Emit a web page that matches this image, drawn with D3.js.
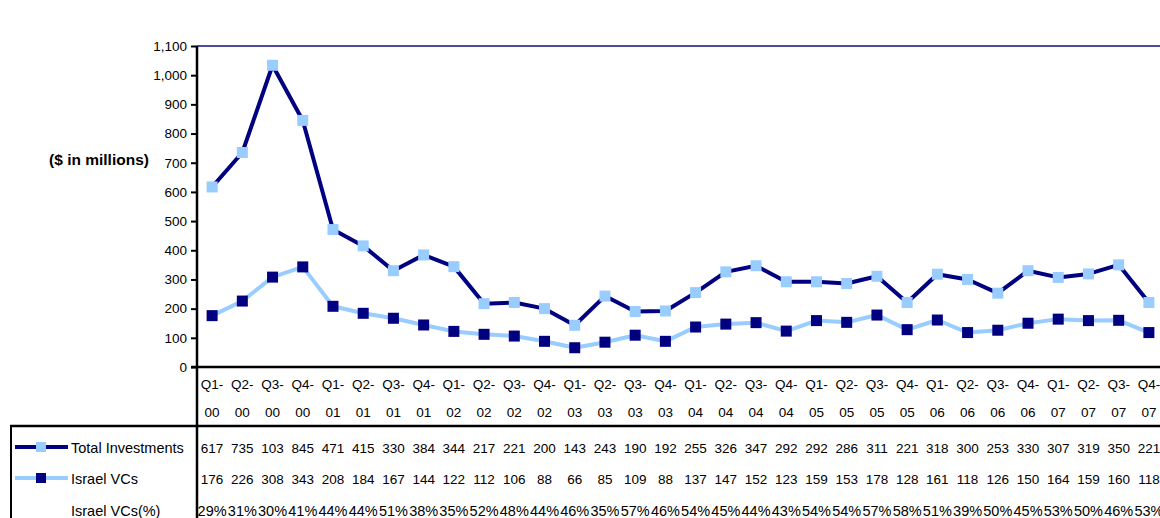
<!DOCTYPE html>
<html>
<head>
<meta charset="utf-8">
<script src="https://cdn.jsdelivr.net/npm/d3@7"></script>
<style>
    body { margin: 0; background: #fff; }
    text { font-family: "Liberation Sans", Arial, sans-serif; fill: #000; }
</style>
</head>
<body>
<div id="chart"></div>
<script>
var quarters = ["Q1-00", "Q2-00", "Q3-00", "Q4-00", "Q1-01", "Q2-01", "Q3-01", "Q4-01",
    "Q1-02", "Q2-02", "Q3-02", "Q4-02", "Q1-03", "Q2-03", "Q3-03", "Q4-03",
    "Q1-04", "Q2-04", "Q3-04", "Q4-04", "Q1-05", "Q2-05", "Q3-05", "Q4-05",
    "Q1-06", "Q2-06", "Q3-06", "Q4-06", "Q1-07", "Q2-07", "Q3-07", "Q4-07"];
var totalInvestments = [617, 735, 1034, 845, 471, 415, 330, 384, 344, 217, 221, 200, 143, 243, 190, 192,
    255, 326, 347, 292, 292, 286, 311, 221, 318, 300, 253, 330, 307, 319, 350, 221];
// the table cell shows the value cut to three characters, as in the original
var totalLabels = ["617", "735", "103", "845", "471", "415", "330", "384", "344", "217", "221", "200", "143", "243", "190", "192",
    "255", "326", "347", "292", "292", "286", "311", "221", "318", "300", "253", "330", "307", "319", "350", "221"];
var israelVCs = [176, 226, 308, 343, 208, 184, 167, 144, 122, 112, 106, 88, 66, 85, 109, 88,
    137, 147, 152, 123, 159, 153, 178, 128, 161, 118, 126, 150, 164, 159, 160, 118];
var israelPct = ["29%", "31%", "30%", "41%", "44%", "44%", "51%", "38%", "35%", "52%", "48%", "44%", "46%", "35%", "57%", "46%",
    "54%", "45%", "44%", "43%", "54%", "54%", "57%", "58%", "51%", "39%", "50%", "45%", "53%", "50%", "46%", "53%"];
var yTicks = [0, 100, 200, 300, 400, 500, 600, 700, 800, 900, 1000, 1100];

var navy = "#000080",
    light = "#99ccff";

var width = 1160,
    height = 518,
    plot = { left: 197, right: 1164, top: 46, bottom: 367 };

var svg = d3.select("#chart")
    .append("svg")
    .attr("width", width)
    .attr("height", height);

var x = d3.scaleBand()
    .domain(quarters)
    .range([plot.left, plot.right]);

var y = d3.scaleLinear()
    .domain([0, 1100])
    .range([plot.bottom, plot.top]);

// top border of the plot area
svg.append("line")
    .attr("x1", plot.left).attr("x2", width)
    .attr("y1", y(1100)).attr("y2", y(1100))
    .attr("stroke", "#4b4ba6")
    .attr("stroke-width", 2);

// y axis
var yAxis = svg.append("g")
    .attr("transform", "translate(" + plot.left + ",0)")
    .call(d3.axisLeft(y).tickValues(yTicks).tickSize(6).tickPadding(4).tickFormat(d3.format(",")));
yAxis.select(".domain").remove();
yAxis.selectAll(".tick line").attr("stroke", "#000").attr("stroke-width", 2);
yAxis.selectAll(".tick text")
    .style("font-family", "Liberation Sans, Arial, sans-serif")
    .style("font-size", "13.5px");

svg.append("text")
    .attr("x", 99)
    .attr("y", 165)
    .attr("text-anchor", "middle")
    .style("font-size", "15.5px")
    .style("font-weight", "bold")
    .text("($ in millions)");

// grid of the data table
var tableTop = 426;
svg.append("line")
    .attr("x1", plot.left).attr("x2", plot.left)
    .attr("y1", y(1100)).attr("y2", height)
    .attr("stroke", "#000").attr("stroke-width", 2.5);
svg.append("line")
    .attr("x1", plot.left - 6).attr("x2", width)
    .attr("y1", y(0)).attr("y2", y(0))
    .attr("stroke", "#000").attr("stroke-width", 2.5);
svg.append("line")
    .attr("x1", 10).attr("x2", width)
    .attr("y1", tableTop).attr("y2", tableTop)
    .attr("stroke", "#000").attr("stroke-width", 2.5);
svg.append("line")
    .attr("x1", 11).attr("x2", 11)
    .attr("y1", tableTop).attr("y2", height)
    .attr("stroke", "#000").attr("stroke-width", 2);

// category labels, two lines each
var cats = svg.append("g").selectAll("text")
    .data(quarters)
    .enter()
    .append("text")
    .attr("text-anchor", "middle")
    .style("font-size", "13.5px");
cats.append("tspan")
    .attr("x", (d) => x(d) + x.bandwidth() / 2)
    .attr("y", 389)
    .text((d) => d.split("-")[0] + "-");
cats.append("tspan")
    .attr("x", (d) => x(d) + x.bandwidth() / 2)
    .attr("y", 417)
    .text((d) => d.split("-")[1]);

// lines and markers
var line = (vals) => d3.line()
    .x((d, i) => x(quarters[i]) + x.bandwidth() / 2)
    .y((d) => y(d))(vals);

var series = [
    { name: "Israel VCs", values: israelVCs, stroke: light, marker: navy },
    { name: "Total Investments", values: totalInvestments, stroke: navy, marker: light },
];
var ms = 11;

series.forEach((s) => {
    svg.append("path")
        .attr("fill", "none")
        .attr("stroke", s.stroke)
        .attr("stroke-width", 4)
        .attr("stroke-linejoin", "round")
        .attr("d", line(s.values));
    svg.append("g").selectAll("rect")
        .data(s.values)
        .enter()
        .append("rect")
        .attr("x", (d, i) => x(quarters[i]) + x.bandwidth() / 2 - ms / 2)
        .attr("y", (d) => y(d) - ms / 2)
        .attr("width", ms)
        .attr("height", ms)
        .attr("fill", s.marker);
});

// table rows
var rows = [
    { label: "Total Investments", cells: totalLabels, y: 453, size: 13.5, stroke: navy, marker: light },
    { label: "Israel VCs", cells: israelVCs.map(String), y: 484, size: 13.5, stroke: light, marker: navy },
    { label: "Israel VCs(%)", cells: israelPct, y: 516, size: 14.5 },
];

rows.forEach((r) => {
    if (r.stroke) {
        svg.append("line")
            .attr("x1", 15).attr("x2", 68)
            .attr("y1", r.y - 6).attr("y2", r.y - 6)
            .attr("stroke", r.stroke).attr("stroke-width", 4);
        svg.append("rect")
            .attr("x", 36).attr("y", r.y - 11)
            .attr("width", 10).attr("height", 10)
            .attr("fill", r.marker);
    }
    svg.append("text")
        .attr("x", 71)
        .attr("y", r.y)
        .style("font-size", "14.5px")
        .text(r.label);
    svg.append("g").selectAll("text")
        .data(r.cells)
        .enter()
        .append("text")
        .attr("x", (d, i) => x(quarters[i]) + x.bandwidth() / 2)
        .attr("y", r.y)
        .attr("text-anchor", "middle")
        .style("font-size", r.size + "px")
        .text((d) => d);
});
</script>
</body>
</html>
